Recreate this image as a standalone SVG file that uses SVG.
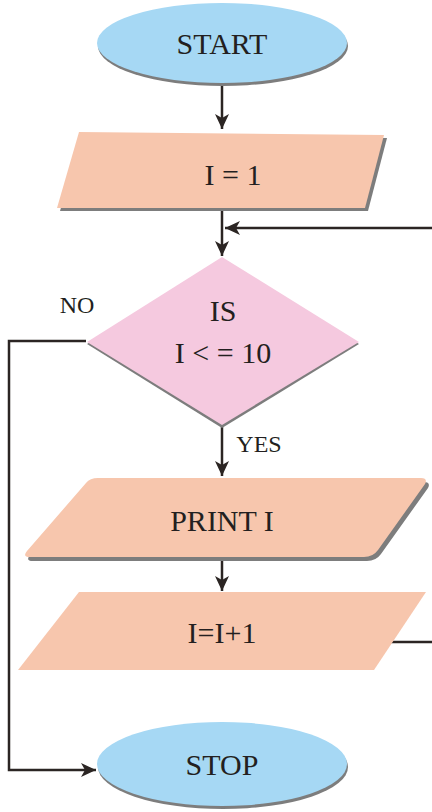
<svg xmlns="http://www.w3.org/2000/svg" width="432" height="812" viewBox="0 0 432 812">
  <style>
    .lbl { font-family: "Liberation Serif", "Times New Roman", serif; fill: #231f20; text-anchor: middle; }
    .big { font-size: 30px; }
    .small { font-size: 24px; }
    .term { fill: #a6d8f4; }
    .io { fill: #f7c6ad; }
    .dec { fill: #f5c9df; }
    .shadow { fill: #7d7d7d; }
    .wire { fill: none; stroke: #2b2523; stroke-width: 2.5; }
  </style>
  <defs>
    <marker id="arrow" markerUnits="userSpaceOnUse" markerWidth="16" markerHeight="14" refX="15" refY="7" orient="auto">
      <path d="M0,0 L15,7 L0,14 L4,7 Z" fill="#2b2523"/>
    </marker>
    <path id="printShape" d="M86,483 Q90,478 98,478 L421,478 Q428,478 425,484 L378,550 Q373,557 364,557 L30,557 Q22,557 27,551 Z"/>
  </defs>

  <!-- connectors -->
  <g id="connectors">
    <path class="wire" d="M222,84 L222,129" marker-end="url(#arrow)"/>
    <path class="wire" d="M222,210 L222,256" marker-end="url(#arrow)"/>
    <path class="wire" d="M432,228 L225,228" marker-end="url(#arrow)"/>
    <path class="wire" d="M222,427 L222,476" marker-end="url(#arrow)"/>
    <path class="wire" d="M222,560 L222,591" marker-end="url(#arrow)"/>
    <path class="wire" d="M86,341 L9,341 L9,770 L96,770" marker-end="url(#arrow)"/>
    <path class="wire" d="M390,642 L432,642"/>
  </g>

  <!-- start terminal -->
  <g id="start">
    <ellipse class="shadow" cx="223" cy="46" rx="125" ry="40"/>
    <ellipse class="term" cx="222" cy="43" rx="125" ry="40"/>
    <text class="lbl big" x="222" y="54">START</text>
  </g>

  <!-- initialise counter -->
  <g id="init">
    <polygon class="shadow" points="82,135 387,138 368,211 60,211"/>
    <polygon class="io" points="79,132 384,135 365,208 57,208"/>
    <text class="lbl big" x="233" y="185">I = 1</text>
  </g>

  <!-- loop test -->
  <g id="test">
    <polygon class="shadow" points="222,260 359,344 222,428 87,344"/>
    <polygon class="dec" points="222,257 359,342 222,425 87,342"/>
    <text class="lbl big" x="223" y="321">IS</text>
    <text class="lbl big" x="223" y="363">I &lt; = 10</text>
    <text class="lbl small" x="77" y="313">NO</text>
    <text class="lbl small" x="259" y="452">YES</text>
  </g>

  <!-- output -->
  <g id="print">
    <use href="#printShape" class="shadow" transform="translate(3,4)"/>
    <use href="#printShape" class="io"/>
    <text class="lbl big" x="222" y="531">PRINT I</text>
  </g>

  <!-- increment -->
  <g id="increment">
    <polygon class="io" points="79,592 426,592 374,670 18,670"/>
    <text class="lbl big" x="222" y="643">I=I+1</text>
  </g>

  <!-- stop terminal -->
  <g id="stop">
    <ellipse class="shadow" cx="223" cy="767" rx="125" ry="42"/>
    <ellipse class="term" cx="222" cy="764" rx="125" ry="42"/>
    <text class="lbl big" x="222" y="775">STOP</text>
  </g>
</svg>
